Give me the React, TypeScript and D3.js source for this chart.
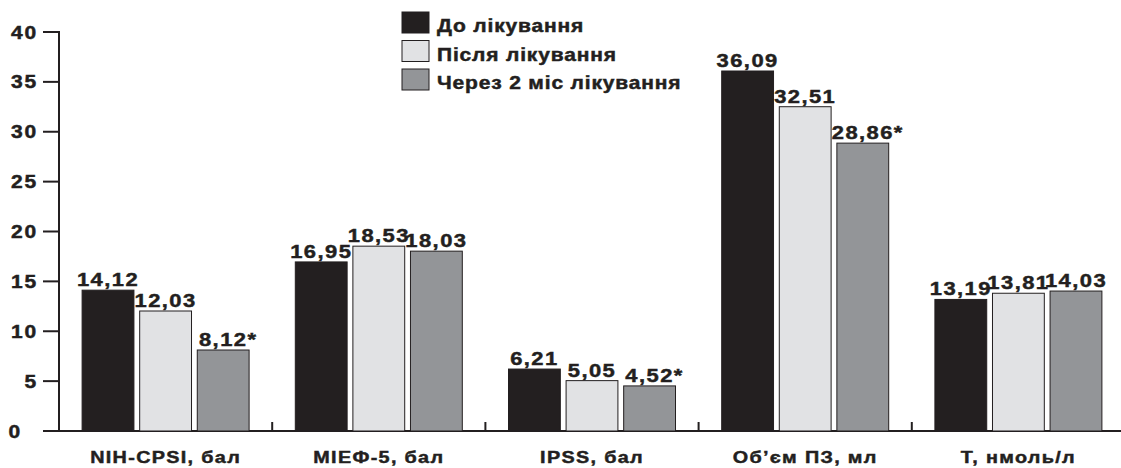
import React from "react";
import * as d3 from "d3";

const categories = ["NIH-CPSI, бал", "МІЕФ-5, бал", "IPSS, бал", "Об’єм ПЗ, мл", "Т, нмоль/л"];
const seriesNames = ["До лікування", "Після лікування", "Через 2 міс лікування"];
const before = [14.12, 16.95, 6.21, 36.09, 13.19];
const after = [12.03, 18.53, 5.05, 32.51, 13.81];
const twoMonths = [8.12, 18.03, 4.52, 28.86, 14.03];
const twoMonthsMark = ["*", "", "*", "*", ""];
const yTicks = [0, 5, 10, 15, 20, 25, 30, 35, 40];
const colors = ["#231f20", "#e1e2e4", "#939598"];

const W = 1121;
const H = 468;
const FONT = "'Liberation Sans', Arial, Helvetica, sans-serif";
const INK = "#231f20";

function T(props: {
  x: number;
  y: number;
  size: number;
  anchor?: "start" | "middle" | "end";
  ls?: number;
  sx?: number;
  children: React.ReactNode;
}) {
  const { x, y, size, anchor = "start", ls = 0, sx = 1.2, children } = props;
  return (
    <g transform={`translate(${x},${y}) scale(${sx},1)`}>
      <text
        x={0}
        y={0}
        textAnchor={anchor}
        fontSize={size}
        fontWeight="bold"
        fill={INK}
        stroke={INK}
        strokeWidth={0.45}
        letterSpacing={ls}
      >
        {children}
      </text>
    </g>
  );
}

export default function App() {
  const x0 = 59;
  const x1 = 1125;
  const yB = 431;
  const yT = 32;
  const y = d3.scaleLinear().domain([0, 40]).range([yB, yT]);
  const xBand = d3.scaleBand<string>().domain(categories).range([x0, x1]).paddingInner(0).paddingOuter(0);
  const bw = xBand.bandwidth();
  const groupW = 167;
  const xInner = d3.scaleBand<number>().domain([0, 1, 2]).range([0, groupW]).paddingInner(0.1).paddingOuter(0);
  const series = [before, after, twoMonths];
  const fmt = (v: number) => v.toFixed(2).replace(".", ",");

  return (
    <svg width={W} height={H} style={{ position: "absolute", left: 0, top: 0, background: "#fff" }} fontFamily={FONT}>
      {/* Y axis */}
      <line x1={x0} x2={x0} y1={yT - 1} y2={yB + 1} stroke={INK} strokeWidth={2} />
      {yTicks.map((t) => (
        <g key={t}>
          <line x1={x0 - 16} x2={x0} y1={y(t)} y2={y(t)} stroke={INK} strokeWidth={2} />
          <T x={t === 0 ? 22 : 38} y={y(t) + 6.5} size={17.5} anchor="end" ls={1.5}>
            {t}
          </T>
        </g>
      ))}
      {/* X axis */}
      <line x1={x0 - 1} x2={W} y1={yB} y2={yB} stroke={INK} strokeWidth={2} />
      {categories.slice(1).map((c) => (
        <line key={c} x1={xBand(c)!} x2={xBand(c)!} y1={yB} y2={yB - 9} stroke={INK} strokeWidth={2} />
      ))}
      {/* Bars */}
      {categories.map((c, ci) => {
        const gx = xBand(c)! + (bw - groupW) / 2;
        return (
          <g key={c}>
            {series.map((s, si) => {
              const bx = gx + xInner(si)!;
              const w = xInner.bandwidth();
              const v = s[ci];
              const label = fmt(v) + (si === 2 ? twoMonthsMark[ci] : "");
              return (
                <g key={si}>
                  <rect x={bx} y={y(v)} width={w} height={yB - y(v)} fill={colors[si]} stroke={INK} strokeWidth={1} />
                  <T x={bx + w / 2 + (label.endsWith("*") ? 5 : 0)} y={y(v) - 4} size={18.3} anchor="middle" ls={1.2}>
                    {label}
                  </T>
                </g>
              );
            })}
            <T x={xBand(c)! + bw / 2} y={463} size={16.5} anchor="middle" ls={1.1}>
              {c}
            </T>
          </g>
        );
      })}
      {/* Legend */}
      {seriesNames.map((n, i) => (
        <g key={n}>
          <rect x={402} y={12 + i * 28.5} width={27} height={21} fill={colors[i]} stroke={INK} strokeWidth={1} />
          <T x={437} y={32 + i * 28.5} size={17.5} ls={0.7}>
            {n}
          </T>
        </g>
      ))}
    </svg>
  );
}
